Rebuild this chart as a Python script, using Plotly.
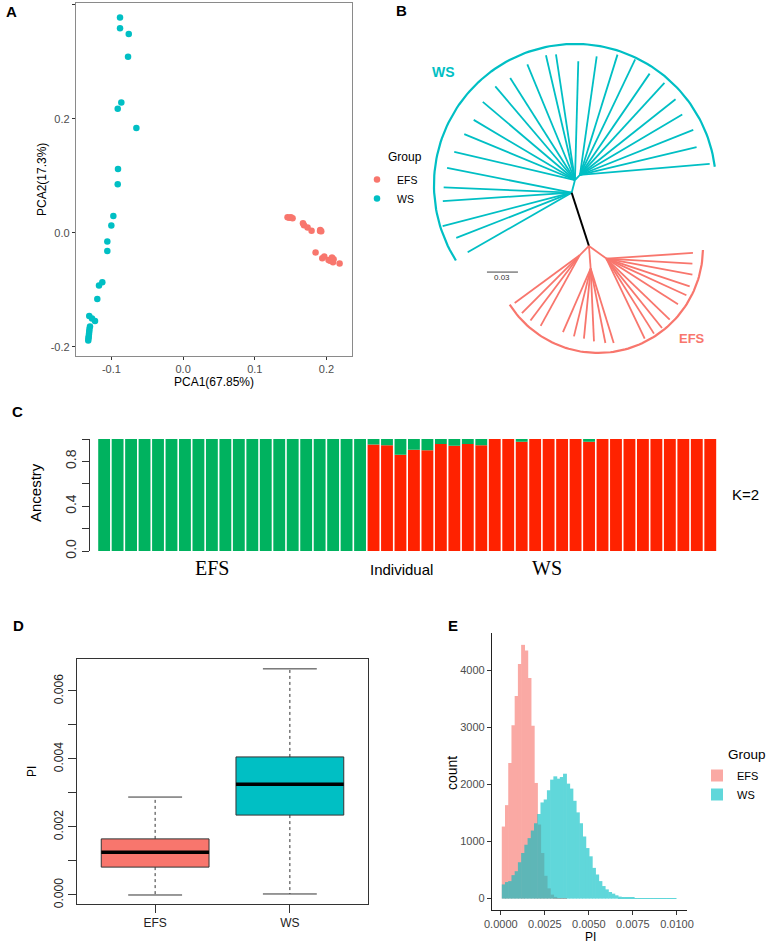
import numpy as np
import plotly.graph_objects as go

W, H = 770, 945
SALMON = "#F8766D"
TEAL = "#00BFC4"

# ---- A: PCA ----
PCA_EFS_X = [0.1457, 0.1480, 0.1504, 0.1527, 0.1672, 0.1686, 0.1736, 0.1792, 0.1913, 0.1910,
             0.1927, 0.1848, 0.1941, 0.1969, 0.2029, 0.2050, 0.2077, 0.2099, 0.2091, 0.2183]
PCA_EFS_Y = [0.0275, 0.0265, 0.0275, 0.0257, 0.0170, 0.0135, 0.0093, 0.0040, 0.0050, 0.0035,
             0.0030, -0.0345, -0.0445, -0.0415, -0.0474, -0.0490, -0.0433, -0.0460, -0.0515, -0.0538]
PCA_WS_X = [-0.0880, -0.0880, -0.0758, -0.0768, -0.0862, -0.0912, -0.0652, -0.0908, -0.0912,
            -0.0973, -0.1001, -0.1057, -0.1057, -0.1127, -0.1173, -0.1197, -0.1309, -0.1229,
            -0.1271, -0.1299, -0.1306, -0.1309, -0.1313, -0.1317, -0.1320, -0.1323]
PCA_WS_Y = [0.378, 0.359, 0.349, 0.309, 0.229, 0.218, 0.184, 0.112, 0.0854, 0.0298, 0.0129,
            -0.0152, -0.0316, -0.0865, -0.0924, -0.1158, -0.1456, -0.1544, -0.150, -0.1644,
            -0.1684, -0.1732, -0.1772, -0.1819, -0.185, -0.189]

# ---- B: tree (angles in degrees, branch lengths in substitutions/site) ----
WS_HUB_ANGLES = [75.4, 45.0]        # hub0 -> hub1, hub1 -> hub2
WS_HUB_LENGTHS = [0.0127, 0.0069]
WS_TIP_NODE = [0] * 6 + [1] * 10 + [2] * 10
WS_TIP_ANGLES = [209.8, 201.4, 194.5, 183.7, 177.6, 168.7,
                 166.9, 157.5, 149.3, 139.7, 130.4, 122.4, 112.4, 103.1, 98.6, 88.4,
                 82.0, 72.7, 64.5, 55.5, 47.5, 38.4, 30.6, 21.7, 13.4, 4.9]
WS_TIP_LENGTHS = [0.116, 0.120, 0.129, 0.125, 0.124, 0.123,
                  0.120, 0.116, 0.114, 0.117, 0.119, 0.117, 0.121, 0.124, 0.123, 0.115,
                  0.116, 0.122, 0.124, 0.119, 0.121, 0.118, 0.115, 0.118, 0.116, 0.126]
STEM_ANGLE, STEM_LENGTH = 288.0, 0.0542
EFS_HUB_ANGLES = [225.0, 274.3, 324.1]
EFS_HUB_LENGTHS = [0.0128, 0.0220, 0.0208]
EFS_TIP_NODE = [0] * 4 + [1] * 6 + [2] * 10
EFS_TIP_ANGLES = [216.3, 225.0, 233.0, 241.1,
                  246.4, 256.1, 264.5, 272.6, 281.2, 287.2,
                  3.7, 356.7, 349.5, 341.6, 335.4, 327.5, 316.1, 308.7, 302.4, 295.6]
EFS_TIP_LENGTHS = [0.078, 0.079, 0.079, 0.078,
                   0.067, 0.0675, 0.068, 0.0705, 0.0734, 0.0754,
                   0.084, 0.0834, 0.0847, 0.085, 0.0852, 0.0822, 0.0851, 0.0861, 0.086, 0.0859]
SCALE_BAR = 0.03

# ---- C: admixture K=2 ----
ANCESTRY_K1 = [1.0] * 20 + [0.048, 0.055, 0.14, 0.095, 0.10, 0.045, 0.06, 0.045, 0.055, 0.0,
                            0.0, 0.025, 0.0, 0.0, 0.0, 0.0, 0.025, 0.0, 0.0, 0.0,
                            0.0, 0.0, 0.0, 0.0, 0.0, 0.0]

# ---- D: boxplot of PI ----
BOX_GROUPS = ["EFS", "WS"]
BOX_LOW = [0.0, 0.00003]
BOX_Q1 = [0.00082, 0.00235]
BOX_MED = [0.00126, 0.00326]
BOX_Q3 = [0.00165, 0.00406]
BOX_HIGH = [0.00288, 0.00665]

# ---- E: histogram of PI ----
BIN_START = 0.000074
BIN_WIDTH = 0.000183
EFS_COUNTS = [1264, 1640, 2377, 3043, 3554, 4116, 4452, 4354, 3872, 3032, 2029, 1300, 800, 400,
              180, 70, 30, 10, 5, 2]
WS_COUNTS = [249, 290, 307, 412, 481, 638, 800, 945, 1061, 1194, 1322, 1484, 1687, 1739, 1901,
             2087, 2145, 2104, 2133, 2191, 2017, 1930, 1716, 1513, 1322, 1090, 887, 742, 539,
             423, 307, 220, 162, 116, 87, 58, 35, 23, 20, 15, 12, 10, 8, 6, 5, 4, 3, 3, 2, 2,
             1, 1, 1, 1]


def px(x, y):
    return x / W, 1 - y / H


def label(fig, x, y, text, size=12, color="black", angle=0, family="Liberation Sans", bold=False,
          xanchor="center"):
    if bold:
        text = "<b>" + text + "</b>"
    fx, fy = px(x, y)
    fig.add_annotation(x=fx, y=fy, xref="paper", yref="paper", text=text, showarrow=False,
                       textangle=angle, xanchor=xanchor, yanchor="middle",
                       font=dict(size=size, color=color, family=family))


def polar(origin, angle, length):
    a = np.deg2rad(angle)
    return origin[0] + length * np.cos(a), origin[1] + length * np.sin(a)


def segs(pairs):
    xs, ys = [], []
    for p, q in pairs:
        xs += [p[0], q[0], None]
        ys += [p[1], q[1], None]
    return xs, ys


def add_pca(fig):
    fig.add_trace(go.Scatter(x=PCA_EFS_X, y=PCA_EFS_Y, mode="markers", name="EFS",
                             marker=dict(color=SALMON, size=6.5), xaxis="x", yaxis="y"))
    fig.add_trace(go.Scatter(x=PCA_WS_X, y=PCA_WS_Y, mode="markers", name="WS",
                             marker=dict(color=TEAL, size=6.5), xaxis="x", yaxis="y"))


def add_tree(fig):
    hub0 = (0.0, 0.0)
    hub1 = polar(hub0, WS_HUB_ANGLES[0], WS_HUB_LENGTHS[0])
    hub2 = polar(hub1, WS_HUB_ANGLES[1], WS_HUB_LENGTHS[1])
    ws_hubs = [hub0, hub1, hub2]
    pairs = [(hub0, hub1), (hub1, hub2)]
    for n, a, l in zip(WS_TIP_NODE, WS_TIP_ANGLES, WS_TIP_LENGTHS):
        pairs.append((ws_hubs[n], polar(ws_hubs[n], a, l)))
    x, y = segs(pairs)
    fig.add_trace(go.Scatter(x=x, y=y, mode="lines", line=dict(color=TEAL, width=1.8),
                             xaxis="x2", yaxis="y2", showlegend=False, hoverinfo="skip"))

    root = polar(hub0, STEM_ANGLE, STEM_LENGTH)
    fig.add_trace(go.Scatter(x=[hub0[0], root[0]], y=[hub0[1], root[1]], mode="lines",
                             line=dict(color="black", width=2), xaxis="x2", yaxis="y2",
                             showlegend=False, hoverinfo="skip"))

    efs_hubs = [polar(root, a, l) for a, l in zip(EFS_HUB_ANGLES, EFS_HUB_LENGTHS)]
    pairs = [(root, h) for h in efs_hubs]
    for n, a, l in zip(EFS_TIP_NODE, EFS_TIP_ANGLES, EFS_TIP_LENGTHS):
        pairs.append((efs_hubs[n], polar(efs_hubs[n], a, l)))
    x, y = segs(pairs)
    fig.add_trace(go.Scatter(x=x, y=y, mode="lines", line=dict(color=SALMON, width=1.8),
                             xaxis="x2", yaxis="y2", showlegend=False, hoverinfo="skip"))

    # clade arcs
    t = np.deg2rad(np.linspace(7.4, 212.4, 120))
    fig.add_trace(go.Scatter(x=0.0032 + 0.1365 * np.cos(t), y=0.0075 + 0.1365 * np.sin(t),
                             mode="lines", line=dict(color=TEAL, width=2.2), xaxis="x2",
                             yaxis="y2", showlegend=False, hoverinfo="skip"))
    t = np.deg2rad(np.linspace(212.7, 358.9, 90))
    fig.add_trace(go.Scatter(x=0.0255 + 0.1016 * np.cos(t), y=-0.0535 + 0.1016 * np.sin(t),
                             mode="lines", line=dict(color=SALMON, width=2.2), xaxis="x2",
                             yaxis="y2", showlegend=False, hoverinfo="skip"))

    # scale bar
    fig.add_trace(go.Scatter(x=[-0.082, -0.082 + SCALE_BAR], y=[-0.0768, -0.0768], mode="lines",
                             line=dict(color="#444", width=1), xaxis="x2", yaxis="y2",
                             showlegend=False, hoverinfo="skip"))


def add_structure(fig):
    idx = list(range(len(ANCESTRY_K1)))
    k2 = [1 - v for v in ANCESTRY_K1]
    fig.add_trace(go.Bar(x=idx, y=k2, base=0, width=0.88, marker=dict(color="#FF2200", line_width=0),
                         xaxis="x3", yaxis="y3", showlegend=False, hoverinfo="skip"))
    fig.add_trace(go.Bar(x=idx, y=ANCESTRY_K1, base=k2, width=0.88,
                         marker=dict(color="#00B25F", line_width=0),
                         xaxis="x3", yaxis="y3", showlegend=False, hoverinfo="skip"))


def add_box(fig):
    colors = [SALMON, TEAL]
    for i in range(len(BOX_GROUPS)):
        c = i + 1
        fig.add_trace(go.Scatter(x=[c, c, None, c, c], y=[BOX_Q3[i], BOX_HIGH[i], None, BOX_Q1[i], BOX_LOW[i]],
                                 mode="lines", line=dict(color="#333", width=1, dash="3px,3px"),
                                 xaxis="x4", yaxis="y4", showlegend=False, hoverinfo="skip"))
        fig.add_trace(go.Scatter(x=[c - 0.2, c + 0.2, None, c - 0.2, c + 0.2],
                                 y=[BOX_HIGH[i], BOX_HIGH[i], None, BOX_LOW[i], BOX_LOW[i]],
                                 mode="lines", line=dict(color="#333", width=1),
                                 xaxis="x4", yaxis="y4", showlegend=False, hoverinfo="skip"))
        fig.add_trace(go.Scatter(x=[c - 0.4, c + 0.4, c + 0.4, c - 0.4, c - 0.4],
                                 y=[BOX_Q1[i], BOX_Q1[i], BOX_Q3[i], BOX_Q3[i], BOX_Q1[i]],
                                 mode="lines", fill="toself", fillcolor=colors[i],
                                 line=dict(color="#333", width=1),
                                 xaxis="x4", yaxis="y4", showlegend=False, hoverinfo="skip"))
        fig.add_trace(go.Scatter(x=[c - 0.4, c + 0.4], y=[BOX_MED[i], BOX_MED[i]], mode="lines",
                                 line=dict(color="black", width=3.5),
                                 xaxis="x4", yaxis="y4", showlegend=False, hoverinfo="skip"))


def add_hist(fig):
    for name, counts, color in [("EFS", EFS_COUNTS, SALMON), ("WS", WS_COUNTS, TEAL)]:
        centers = [BIN_START + (i + 0.5) * BIN_WIDTH for i in range(len(counts))]
        # bars slightly wider than the bin so no seams show through the trace opacity
        fig.add_trace(go.Bar(x=centers, y=counts, width=BIN_WIDTH * 1.2, name=name, opacity=0.62,
                             marker=dict(color=color, line_width=0), legend="legend2",
                             xaxis="x5", yaxis="y5"))


def dom_x(a, b):
    return [a / W, b / W]


def dom_y(top, bottom):
    return [1 - bottom / H, 1 - top / H]


def layout(fig):
    font = "Liberation Sans"
    grey = "#4d4d4d"
    fig.update_layout(
        width=W, height=H, margin=dict(l=0, r=0, t=0, b=0, pad=0, autoexpand=False),
        paper_bgcolor="white", plot_bgcolor="white", barmode="overlay",
        font=dict(family=font, color="black"),
        xaxis=dict(domain=dom_x(76, 352), range=[-0.1494, 0.2356], anchor="y",
                   tickvals=[-0.1, 0, 0.1, 0.2], ticktext=["-0.1", "0.0", "0.1", "0.2"],
                   ticks="outside", ticklen=3, tickcolor="#333", showline=True, mirror=True,
                   linecolor="#8a8a8a", linewidth=1.3, showgrid=False, zeroline=False,
                   tickfont=dict(size=11, color=grey), automargin=False),
        yaxis=dict(domain=dom_y(3, 356), range=[-0.216, 0.4035], anchor="x",
                   tickvals=[-0.2, 0, 0.2, 0.4], ticktext=["-0.2", "0.0", "0.2", "0.4"],
                   ticks="outside", ticklen=3, tickcolor="#333", showline=True, mirror=True,
                   linecolor="#8a8a8a", linewidth=1.3, showgrid=False, zeroline=False,
                   tickfont=dict(size=11, color=grey), automargin=False),
        xaxis2=dict(domain=dom_x(360, 770), range=[-0.2049, 0.1920], anchor="y2", visible=False,
                    automargin=False),
        yaxis2=dict(domain=dom_y(0, 360), range=[-0.1619, 0.1865], anchor="x2", visible=False,
                    automargin=False),
        xaxis3=dict(domain=dom_x(97.4, 717), range=[-0.5, 45.5], anchor="y3", visible=False,
                    automargin=False),
        yaxis3=dict(domain=dom_y(439, 551), range=[0, 1], anchor="free", position=88.5 / W,
                    tickvals=[0, 0.2, 0.4, 0.6, 0.8, 1.0],
                    ticktext=["0.0", "", "0.4", "", "0.8", ""], tickangle=-90,
                    ticks="outside", ticklen=7, tickcolor="#333", showline=True,
                    linecolor="#333", linewidth=1, showgrid=False, zeroline=False,
                    tickfont=dict(size=14, color="#333"), automargin=False),
        xaxis4=dict(domain=dom_x(77, 368), range=[0.42, 2.58], anchor="y4",
                    tickvals=[1, 2], ticktext=BOX_GROUPS, ticks="outside", ticklen=8,
                    tickcolor="#333", showline=True, mirror=True, linecolor="#333",
                    linewidth=1, showgrid=False, zeroline=False,
                    tickfont=dict(size=12, color="#222"), automargin=False),
        yaxis4=dict(domain=dom_y(659, 904), range=[-0.000265, 0.00694], anchor="x4",
                    tickvals=[0, 0.001, 0.002, 0.003, 0.004, 0.005, 0.006],
                    ticktext=["0.000", "", "0.002", "", "0.004", "", "0.006"], tickangle=-90,
                    ticks="outside", ticklen=8, tickcolor="#333", showline=True, mirror=True,
                    linecolor="#333", linewidth=1, showgrid=False, zeroline=False,
                    tickfont=dict(size=12, color="#222"), automargin=False),
        xaxis5=dict(domain=dom_x(492, 687), range=[-0.0005, 0.01057], anchor="y5",
                    tickvals=[0, 0.0025, 0.005, 0.0075, 0.01],
                    ticktext=["0.0000", "0.0025", "0.0050", "0.0075", "0.0100"],
                    ticks="outside", ticklen=4, tickcolor="#333", showline=True,
                    linecolor="#222", linewidth=1.3, showgrid=False, zeroline=False,
                    tickfont=dict(size=11, color=grey), automargin=False),
        yaxis5=dict(domain=dom_y(633, 910), range=[-200, 4660], anchor="x5",
                    tickvals=[0, 1000, 2000, 3000, 4000],
                    ticks="outside", ticklen=4, tickcolor="#333", showline=True,
                    linecolor="#222", linewidth=1.3, showgrid=False, zeroline=False,
                    tickfont=dict(size=11, color=grey), automargin=False),
        legend=dict(x=357 / W, y=1 - 165 / H, xanchor="left", yanchor="top",
                    font=dict(size=10.5), bgcolor="rgba(0,0,0,0)", tracegroupgap=0),
        legend2=dict(x=697 / W, y=1 - 761 / H, xanchor="left", yanchor="top",
                     font=dict(size=11), bgcolor="rgba(0,0,0,0)", tracegroupgap=0),
    )

    # panel letters
    for t, x, y in [("A", 11, 11), ("B", 402, 10), ("C", 17, 412), ("D", 18, 625), ("E", 453, 625)]:
        label(fig, x, y, t, size=15, bold=True)
    # A
    label(fig, 214, 382, "PCA1(67.85%)", size=12)
    label(fig, 42, 180, "PCA2(17.3%)", size=12, angle=-90)
    label(fig, 386, 157, "Group", size=12, xanchor="left")
    # B
    label(fig, 443, 72, "WS", size=14, color=TEAL, bold=True)
    label(fig, 692, 338, "EFS", size=13, color=SALMON, bold=True)
    label(fig, 502, 278, "0.03", size=8, color="#333")
    # C
    label(fig, 36, 493, "Ancestry", size=15, angle=-90)
    label(fig, 745, 494, "K=2", size=15)
    label(fig, 212, 568, "EFS", size=20, family="Liberation Serif")
    label(fig, 402, 569, "Individual", size=15)
    label(fig, 547, 568, "WS", size=20, family="Liberation Serif")
    # D
    label(fig, 32, 772, "PI", size=12, angle=-90)
    # E
    label(fig, 452, 773, "count", size=14, angle=-90)
    label(fig, 590, 937, "PI", size=12)
    label(fig, 726, 754, "Group", size=13.5, xanchor="left")


if __name__ == '__main__':
    fig = go.Figure()
    add_pca(fig)
    add_tree(fig)
    add_structure(fig)
    add_box(fig)
    add_hist(fig)
    layout(fig)
    fig.write_html("out.html", config={"displayModeBar": False},
                   post_script="document.body.style.margin='0px';")
